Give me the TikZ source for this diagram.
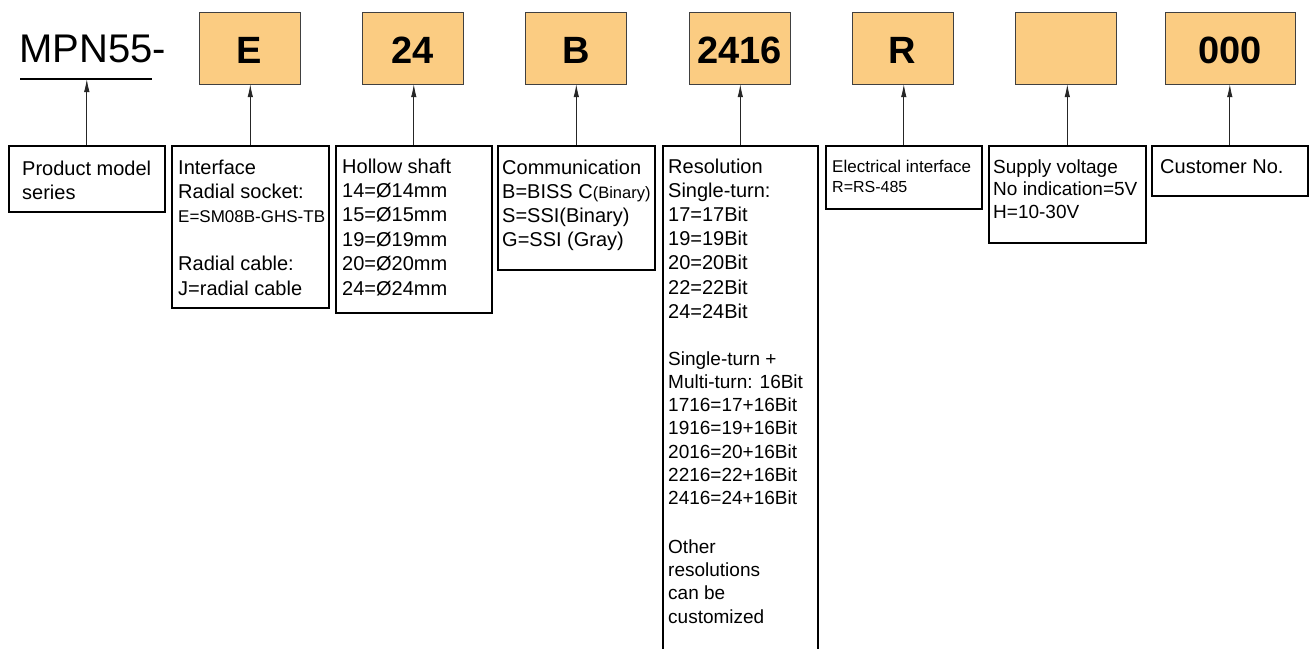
\documentclass[tikz,border=0pt]{standalone}
\usepackage{fontspec}
\setmainfont{Liberation Sans}
\usetikzlibrary{arrows.meta}
\definecolor{codeorange}{RGB}{251,204,130}

\begin{document}
\begin{tikzpicture}[x=1pt, y=-1pt,
	codebox/.style={draw=black!75, fill=codeorange, minimum width=101pt, minimum height=72pt, inner sep=0pt, font=\fontsize{38}{40}\selectfont\bfseries, text height=31pt, text depth=0pt},
	descbox/.style={draw, line width=1.6pt, inner sep=0pt, anchor=north west},
	desctext/.style={inner sep=0pt, anchor=base west, font=\fontsize{20}{24.2}\selectfont},
	pointer/.style={-{Latex[length=13pt, width=5.5pt]}, black!85, line width=0.8pt}]
	\useasboundingbox (0,0) rectangle (1309,648);

	% model series
	\node[anchor=base west, inner sep=0pt, font=\fontsize{40}{40}\selectfont] (model) at (19,62) {MPN55-};
	\coordinate (ulw) at (20,79);
	\coordinate (ule) at (152,79);
	\draw[line width=1.5pt] (ulw) -- (ule);

	% code fields
	\foreach \n/\x/\w/\t in {2/249.5/101/E, 3/412.5/101/24, 4/576/101/B, 5/739.5/101/2416, 6/902.5/101/R, 7/1066/101/{}, 8/1230/130/000} {
			\node[codebox, minimum width=\w pt] (c\n) at (\x,48) {\t};
		}

	% descriptions
	\node[descbox, minimum width=156pt, minimum height=66pt] (d1) at (8,145) {};
	\node[descbox, minimum width=157pt, minimum height=162pt] (d2) at (171,145) {};
	\node[descbox, minimum width=156pt, minimum height=167pt] (d3) at (335,145) {};
	\node[descbox, minimum width=157pt, minimum height=124pt] (d4) at (497,145) {};
	\node[descbox, minimum width=155pt, minimum height=520pt] (d5) at (662,145) {};
	\node[descbox, minimum width=156pt, minimum height=63pt] (d6) at (825,145) {};
	\node[descbox, minimum width=157pt, minimum height=97pt] (d7) at (988,145) {};
	\node[descbox, minimum width=156pt, minimum height=50pt] (d8) at (1151,145) {};

	\node[desctext] (t1) at (22,175) {\parbox[t]{160pt}{Product model\\ series}};
	\node[desctext] (t2) at (178,174) {\parbox[t]{160pt}{Interface\\ Radial socket:\\ {\fontsize{17}{24}\selectfont E=SM08B-GHS-TB}\\[24.2pt] Radial cable:\\ J=radial cable}};
	\node[desctext, font=\fontsize{20}{24.4}\selectfont] (t3) at (342,173) {\parbox[t]{160pt}{Hollow shaft\\ 14=Ø14mm\\ 15=Ø15mm\\ 19=Ø19mm\\ 20=Ø20mm\\ 24=Ø24mm}};
	\node[desctext] (t4) at (502,174) {\parbox[t]{170pt}{Communication\\ B=BISS C{\fontsize{16.5}{24}\selectfont(Binary)}\\ S=SSI(Binary)\\ G=SSI (Gray)}};
	\node[desctext] (t5) at (668,173) {\parbox[t]{160pt}{Resolution\\ Single-turn:\\ 17=17Bit\\ 19=19Bit\\ 20=20Bit\\ 22=22Bit\\ 24=24Bit\par
				\vspace{23.8pt}\fontsize{19}{23.2}\selectfont
				Single-turn +\\ Multi-turn: 16Bit\\ 1716=17+16Bit\\ 1916=19+16Bit\\ 2016=20+16Bit\\ 2216=22+16Bit\\ 2416=24+16Bit\\[25.8pt]
				Other\\ resolutions\\ can be\\ customized}};
	\node[desctext, font=\fontsize{17}{20}\selectfont] (t6) at (832,172) {\parbox[t]{160pt}{Electrical interface\\ {\fontsize{16}{20}\selectfont R=RS-485}}};
	\node[desctext, font=\fontsize{19}{22.7}\selectfont] (t7) at (993,173) {\parbox[t]{160pt}{Supply voltage\\ No indication=5V\\ H=10-30V}};
	\node[desctext] (t8) at (1160,173) {\parbox[t]{160pt}{Customer No.}};

	% pointers
	\draw[pointer] (d1.north) -- (d1.north |- ulw);
	\foreach \n in {2,...,8} {
			\draw[pointer] (d\n.north) -- (d\n.north |- c\n.south);
		}

\end{tikzpicture}
\end{document}
